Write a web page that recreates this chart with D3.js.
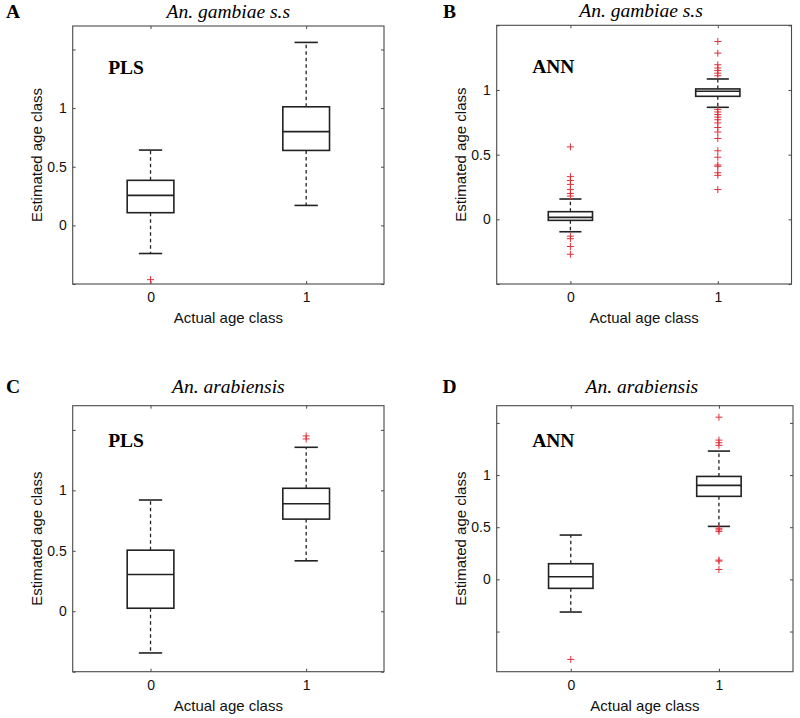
<!DOCTYPE html>
<html><head><meta charset="utf-8">
<script src="https://cdn.jsdelivr.net/npm/d3@7"></script>
<style>
html,body{margin:0;padding:0;background:#fff;}
svg{display:block;}
</style>
</head><body>
<svg id="chart" width="800" height="718"></svg>
<script>
// ---------- data ----------
const panelLetters = ["A", "B", "C", "D"];
const panelTitles = ["An. gambiae s.s", "An. gambiae s.s", "An. arabiensis", "An. arabiensis"];
const methods = ["PLS", "ANN", "PLS", "ANN"];
const categories = [0, 1];
const xTickLabels = ["0", "1"];
const yTickValues = [-0.5, 0, 0.5, 1, 1.5];
const yTickLabels = ["", "0", "0.5", "1", ""];
const xAxisLabel = "Actual age class";
const yAxisLabel = "Estimated age class";

// y-axis limits of each panel
const yDomainA = [-0.5, 1.7];
const yDomainB = [-0.5, 1.5];
const yDomainC = [-0.5, 1.7];
const yDomainD = [-0.885, 1.665];

// box statistics, one value per category (0, 1)
const lowerWhiskerA = [-0.24, 0.17];
const q1A = [0.108, 0.639];
const medianA = [0.256, 0.799];
const q3A = [0.384, 1.011];
const upperWhiskerA = [0.642, 1.56];
const outliersA0 = [-0.463];
const outliersA1 = [];

const lowerWhiskerB = [-0.096, 0.866];
const q1B = [-0.008, 0.951];
const medianB = [0.015, 0.99];
const q3B = [0.059, 1.008];
const upperWhiskerB = [0.157, 1.085];
const outliersB0 = [0.56, 0.33, 0.30, 0.27, 0.23, 0.20, 0.18, -0.13, -0.15, -0.21, -0.27];
const outliersB1 = [1.375, 1.285, 1.195, 1.17, 1.15, 1.13, 1.11,
  0.85, 0.83, 0.81, 0.79, 0.77, 0.745, 0.71, 0.675, 0.625, 0.53, 0.48, 0.42, 0.41, 0.36, 0.34, 0.23];

const lowerWhiskerC = [-0.345, 0.417];
const q1C = [0.025, 0.762];
const medianC = [0.304, 0.889];
const q3C = [0.505, 1.017];
const upperWhiskerC = [0.92, 1.356];
const outliersC0 = [];
const outliersC1 = [1.425, 1.45];

const lowerWhiskerD = [-0.313, 0.508];
const q1D = [-0.086, 0.796];
const medianD = [0.025, 0.901];
const q3D = [0.150, 0.987];
const upperWhiskerD = [0.425, 1.23];
const outliersD0 = [-0.767];
const outliersD1 = [1.555, 1.335, 1.31, 1.285, 0.49, 0.475, 0.46, 0.185, 0.175, 0.095];

// ---------- layout ----------
const frames = [
  {left: 72.7, right: 384, top: 26, bottom: 284},
  {left: 496.7, right: 791.5, top: 25.3, bottom: 284},
  {left: 72.7, right: 384, top: 405.7, bottom: 671.7},
  {left: 496.7, right: 793, top: 405.7, bottom: 671.7}
];
const panelData = [
  {dom: yDomainA, lo: lowerWhiskerA, q1: q1A, med: medianA, q3: q3A, hi: upperWhiskerA, out: [outliersA0, outliersA1]},
  {dom: yDomainB, lo: lowerWhiskerB, q1: q1B, med: medianB, q3: q3B, hi: upperWhiskerB, out: [outliersB0, outliersB1]},
  {dom: yDomainC, lo: lowerWhiskerC, q1: q1C, med: medianC, q3: q3C, hi: upperWhiskerC, out: [outliersC0, outliersC1]},
  {dom: yDomainD, lo: lowerWhiskerD, q1: q1D, med: medianD, q3: q3D, hi: upperWhiskerD, out: [outliersD0, outliersD1]}
];

const svg = d3.select("#chart");
const sans = "'Liberation Sans', Arial, sans-serif";
const serif = "'Liberation Serif', 'Times New Roman', serif";
const frameColor = "#4a4a4a";
const boxColor = "#222";
const red = "#e0303a";

panelData.forEach((pd, i) => {
  const f = frames[i];
  const w = f.right - f.left, h = f.bottom - f.top;
  const g = svg.append("g").attr("transform", `translate(${f.left},${f.top})`);
  const x = d3.scaleLinear().domain([-0.5, 1.5]).range([0, w]);
  const y = d3.scaleLinear().domain(pd.dom).range([h, 0]);

  // axes (ticks pointing inward, MATLAB style)
  const yTicks = yTickValues.filter(v => v >= pd.dom[0] - 1e-9 && v <= pd.dom[1] + 1e-9);
  const yl = g.append("g").call(d3.axisLeft(y).tickValues(yTicks)
      .tickFormat(v => yTickLabels[yTickValues.indexOf(v)]).tickSize(-3).tickSizeOuter(0).tickPadding(6));
  const yr = g.append("g").attr("transform", `translate(${w},0)`)
      .call(d3.axisRight(y).tickValues(yTicks).tickFormat("").tickSize(-3).tickSizeOuter(0));
  const xb = g.append("g").attr("transform", `translate(0,${h})`)
      .call(d3.axisBottom(x).tickValues(categories).tickFormat((d, k) => xTickLabels[k])
      .tickSize(-3).tickSizeOuter(0).tickPadding(8));
  const xt = g.append("g").call(d3.axisTop(x).tickValues(categories).tickFormat("").tickSize(-3).tickSizeOuter(0));
  [yl, yr, xb, xt].forEach(a => {
    a.select(".domain").remove();
    a.selectAll(".tick line").attr("stroke", frameColor);
    a.selectAll("text").attr("font-family", sans).attr("font-size", "14px").attr("fill", "#111");
  });
  g.append("rect").attr("x", 0).attr("y", 0).attr("width", w).attr("height", h)
    .attr("fill", "none").attr("stroke", frameColor).attr("stroke-width", 1.1);

  // boxes
  const bw = 0.3;
  categories.forEach((c, k) => {
    const bg = g.append("g");
    // whiskers (dashed)
    bg.append("line").attr("x1", x(c)).attr("x2", x(c)).attr("y1", y(pd.q3[k])).attr("y2", y(pd.hi[k]))
      .attr("stroke", boxColor).attr("stroke-width", 1.3).attr("stroke-dasharray", "3.5,3");
    bg.append("line").attr("x1", x(c)).attr("x2", x(c)).attr("y1", y(pd.q1[k])).attr("y2", y(pd.lo[k]))
      .attr("stroke", boxColor).attr("stroke-width", 1.3).attr("stroke-dasharray", "3.5,3");
    // caps
    [pd.hi[k], pd.lo[k]].forEach(v => {
      bg.append("line").attr("x1", x(c - bw / 4)).attr("x2", x(c + bw / 4)).attr("y1", y(v)).attr("y2", y(v))
        .attr("stroke", boxColor).attr("stroke-width", 1.6);
    });
    // box
    bg.append("rect").attr("x", x(c - bw / 2)).attr("width", x(c + bw / 2) - x(c - bw / 2))
      .attr("y", y(pd.q3[k])).attr("height", y(pd.q1[k]) - y(pd.q3[k]))
      .attr("fill", "none").attr("stroke", boxColor).attr("stroke-width", 1.6);
    // median
    bg.append("line").attr("x1", x(c - bw / 2)).attr("x2", x(c + bw / 2)).attr("y1", y(pd.med[k])).attr("y2", y(pd.med[k]))
      .attr("stroke", boxColor).attr("stroke-width", 1.6);
    // outliers
    const s = 3.5;
    pd.out[k].forEach(v => {
      const cx = x(c), cy = y(v);
      bg.append("path").attr("d", `M${cx - s},${cy}H${cx + s}M${cx},${cy - s}V${cy + s}`)
        .attr("stroke", red).attr("stroke-width", 1).attr("fill", "none");
    });
  });

  // axis labels
  g.append("text").attr("x", w / 2).attr("y", h + 39).attr("text-anchor", "middle")
    .attr("font-family", sans).attr("font-size", "15px").attr("fill", "#111").text(xAxisLabel);
  g.append("text").attr("transform", `translate(-31,${h / 2}) rotate(-90)`).attr("text-anchor", "middle")
    .attr("font-family", sans).attr("font-size", "15px").attr("fill", "#111").text(yAxisLabel);

  // method annotation
  g.append("text").attr("x", 35.5).attr("y", i < 2 ? 47.5 : 41.6)
    .attr("font-family", serif).attr("font-weight", "bold").attr("font-size", "19.5px").attr("fill", "#000")
    .text(methods[i]);

  // title
  g.append("text").attr("x", w / 2 - (i % 2 ? 3 : 0)).attr("y", i < 2 ? -8 : -13).attr("text-anchor", "middle")
    .attr("font-family", serif).attr("font-style", "italic").attr("font-size", "19.5px").attr("fill", "#000")
    .text(panelTitles[i]);
});

// panel letters
const letterPos = [[6, 18], [443, 18], [6, 393], [442.5, 393]];
panelLetters.forEach((L, i) => {
  svg.append("text").attr("x", letterPos[i][0]).attr("y", letterPos[i][1])
    .attr("font-family", serif).attr("font-weight", "bold").attr("font-size", "19.5px").attr("fill", "#000").text(L);
});
</script>
</body></html>
